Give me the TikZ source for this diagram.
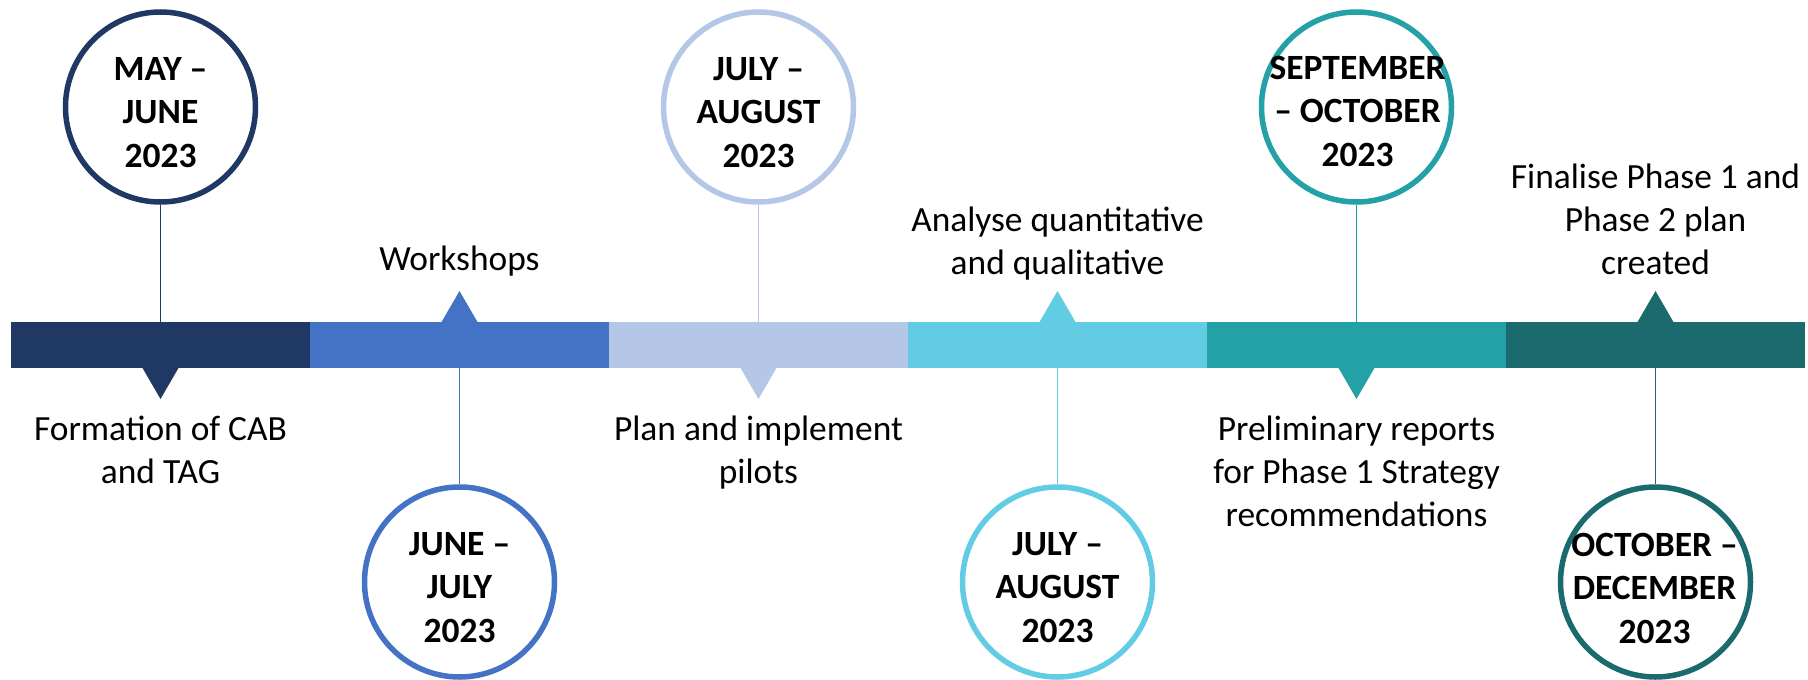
\documentclass[tikz,border=0pt]{standalone}
\usepackage{fontspec}
\setmainfont{Carlito}
\usetikzlibrary{calc}
\definecolor{cA}{HTML}{203864}
\definecolor{cB}{HTML}{4472C4}
\definecolor{cC}{HTML}{B4C7E7}
\definecolor{cD}{HTML}{61CCE3}
\definecolor{cE}{HTML}{24A1A6}
\definecolor{cF}{HTML}{1B6B6E}
\begin{document}
\begin{tikzpicture}[x=1pt,y=-1pt,
  seg/.style={rectangle, inner sep=0pt, outer sep=0pt, minimum width=299.2pt, minimum height=46pt, draw=none, fill=#1},
  ring/.style={circle, draw=#1, fill=white, line width=5.5pt, minimum size=190pt, inner sep=0pt},
  datetext/.style={font=\fontsize{35.5}{43.5}\selectfont\bfseries, align=center, anchor=base, inner sep=0pt},
  desc/.style={font=\fontsize{35.4}{43}\selectfont, align=center, anchor=base, inner sep=0pt},
  stem/.style={draw=#1, line width=1.3pt},
]
\useasboundingbox (0,0) rectangle (1808,680);
% bar segments
\node[seg=cA] (s1) at (160.5,345) {};
\node[seg=cB] (s2) at (459.5,345) {};
\node[seg=cC] (s3) at (758.5,345) {};
\node[seg=cD] (s4) at (1057.5,345) {};
\node[seg=cE] (s5) at (1356.5,345) {};
\node[seg=cF] (s6) at (1655.5,345) {};
% pointers
\fill[cA] ($(s1.south)+(-18,0)$) -- ($(s1.south)+(18,0)$) -- ($(s1.south)+(0,31)$) -- cycle;
\fill[cB] ($(s2.north)+(-18,0)$) -- ($(s2.north)+(18,0)$) -- ($(s2.north)+(0,-31)$) -- cycle;
\fill[cC] ($(s3.south)+(-18,0)$) -- ($(s3.south)+(18,0)$) -- ($(s3.south)+(0,31)$) -- cycle;
\fill[cD] ($(s4.north)+(-18,0)$) -- ($(s4.north)+(18,0)$) -- ($(s4.north)+(0,-31)$) -- cycle;
\fill[cE] ($(s5.south)+(-18,0)$) -- ($(s5.south)+(18,0)$) -- ($(s5.south)+(0,31)$) -- cycle;
\fill[cF] ($(s6.north)+(-18,0)$) -- ($(s6.north)+(18,0)$) -- ($(s6.north)+(0,-31)$) -- cycle;
% circles
\node[ring=cA] (r1) at (160.5,107) {};
\node[ring=cB] (r2) at (459.5,582) {};
\node[ring=cC] (r3) at (758.5,107) {};
\node[ring=cD] (r4) at (1057.5,582) {};
\node[ring=cE] (r5) at (1356.5,107) {};
\node[ring=cF] (r6) at (1655.5,582) {};
% stems
\draw[stem=cA] (r1.south) -- (s1.north);
\draw[stem=cB] (s2.south) -- (r2.north);
\draw[stem=cC] (r3.south) -- (s3.north);
\draw[stem=cD] (s4.south) -- (r4.north);
\draw[stem=cE] (r5.south) -- (s5.north);
\draw[stem=cF] (s6.south) -- (r6.north);
% dates (anchor = baseline of last line)
\node[datetext] (d1) at (160.5,167) {MAY –\\JUNE\\2023};
\node[datetext] (d2) at (459.5,642) {JUNE –\\JULY\\2023};
\node[datetext] (d3) at (758.5,167) {JULY –\\AUGUST\\2023};
\node[datetext] (d4) at (1057.5,642) {JULY –\\AUGUST\\2023};
\node[datetext] (d5) at (1357.5,166) {SEPTEMBER\\– OCTOBER\\2023};
\node[datetext] (d6) at (1654.5,643) {OCTOBER –\\DECEMBER\\2023};
% descriptions (anchor = baseline of last line)
\node[desc] (w1) at (160.5,483) {Formation of CAB\\and TAG};
\node[desc] (w2) at (459.5,270) {Workshops};
\node[desc] (w3) at (758.5,483) {Plan and implement\\pilots};
\node[desc] (w4) at (1057.5,274) {Analyse quantitative\\and qualitative};
\node[desc] (w5) at (1356.5,526) {Preliminary reports\\for Phase 1 Strategy\\recommendations};
\node[desc] (w6) at (1655.5,274) {Finalise Phase 1 and\\Phase 2 plan\\created};
\end{tikzpicture}
\end{document}
